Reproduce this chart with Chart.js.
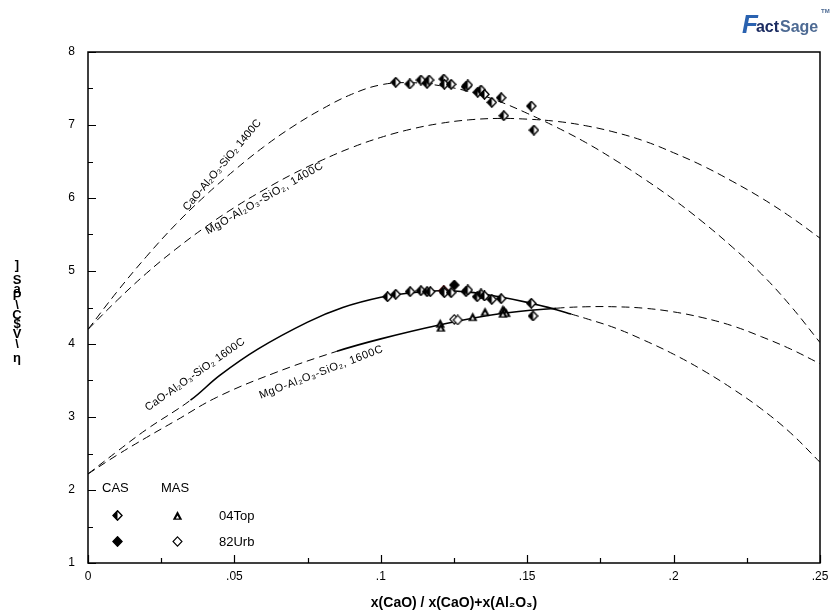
<!DOCTYPE html>
<html>
<head>
<meta charset="utf-8">
<script src="https://cdn.jsdelivr.net/npm/chart.js@4.4.1/dist/chart.umd.min.js"></script>
<style>
  html, body { margin: 0; padding: 0; background: #fff; }
  #wrap { width: 830px; height: 614px; }
</style>
</head>
<body>
<div id="wrap"><canvas id="chart" width="830" height="614"></canvas></div>
<script>
// axis ticks
const xTicks = [0, 0.05, 0.1, 0.15, 0.2, 0.25];
const xTickLabels = ['0', '.05', '.1', '.15', '.2', '.25'];
const yTicks = [1, 2, 3, 4, 5, 6, 7, 8];

// calculated curves
const cas1400X = [0, .01, .02, .03, .04, .05, .06, .07, .08, .09, .10, .11, .12, .13, .14, .15, .16, .17, .18, .19, .20, .21, .22, .23, .24, .25];
const cas1400Y = [4.2, 4.72, 5.2, 5.64, 6.03, 6.38, 6.7, 6.98, 7.22, 7.42, 7.55, 7.58, 7.54, 7.46, 7.33, 7.16, 6.97, 6.76, 6.52, 6.26, 5.98, 5.67, 5.33, 4.96, 4.52, 4.02];

const mas1400X = [0, .01, .02, .03, .04, .05, .06, .07, .08, .09, .10, .11, .12, .13, .14, .15, .16, .17, .18, .19, .20, .21, .22, .23, .24, .25];
const mas1400Y = [4.2, 4.6, 4.97, 5.3, 5.6, 5.87, 6.11, 6.33, 6.52, 6.69, 6.83, 6.94, 7.02, 7.07, 7.09, 7.08, 7.05, 6.99, 6.9, 6.78, 6.62, 6.44, 6.23, 6.0, 5.74, 5.45];

const cas1600X = [0, .01, .02, .035, .045, .058, .075, .087, .10, .11, .12, .13, .14, .15, .16, .165, .17, .18, .19, .20, .21, .22, .23, .24, .25];
const cas1600Y = [2.22, 2.53, 2.83, 3.23, 3.57, 3.93, 4.3, 4.5, 4.64, 4.7, 4.73, 4.71, 4.65, 4.57, 4.47, 4.41, 4.35, 4.22, 4.05, 3.86, 3.64, 3.39, 3.11, 2.78, 2.38];

const mas1600X = [0, .01, .02, .03, .044, .0635, .085, .10, .12, .14, .16, .17, .18, .19, .20, .21, .22, .23, .24, .25];
const mas1600Y = [2.22, 2.48, 2.72, 2.95, 3.27, 3.6, 3.9, 4.07, 4.26, 4.41, 4.49, 4.51, 4.51, 4.49, 4.44, 4.36, 4.25, 4.1, 3.93, 3.73];

// measured points
const casTopX = [0.1051, 0.1099, 0.1137, 0.1158, 0.1165, 0.1215, 0.1217, 0.124, 0.1291, 0.1297, 0.1331, 0.1342, 0.1354, 0.1379, 0.1411, 0.142, 0.1514, 0.1523,
                 0.1023, 0.1051, 0.11, 0.1137, 0.1158, 0.1169, 0.1215, 0.1217, 0.124, 0.1291, 0.1297, 0.1329, 0.1342, 0.1354, 0.1379, 0.1411, 0.1514, 0.152];
const casTopY = [7.585, 7.562, 7.616, 7.571, 7.616, 7.63, 7.558, 7.558, 7.525, 7.548, 7.448, 7.479, 7.42, 7.31, 7.374, 7.127, 7.26, 6.93,
                 4.648, 4.681, 4.717, 4.73, 4.717, 4.717, 4.73, 4.703, 4.703, 4.717, 4.74, 4.648, 4.685, 4.658, 4.612, 4.621, 4.558, 4.384];
const casUrbX = [0.1251];
const casUrbY = [4.808];
const masTopX = [0.1203, 0.1205, 0.1314, 0.1356, 0.1417, 0.1422, 0.1428, 0.1417];
const masTopY = [4.284, 4.229, 4.374, 4.443, 4.475, 4.456, 4.429, 4.421];
const masUrbX = [0.1251, 0.1263];
const masUrbY = [4.338, 4.329];
const redX = [0.1215];
const redY = [4.73];

const FONT = '"Liberation Sans", Arial, sans-serif';

function pts(xs, ys) {
  return xs.map((x, i) => ({ x: x, y: ys[i] }));
}

// small marker images
function marker(kind, color) {
  const c = document.createElement('canvas');
  c.width = 11; c.height = 11;
  const g = c.getContext('2d');
  g.lineWidth = 1.4;
  g.strokeStyle = color;
  g.fillStyle = color;
  function diamond() {
    g.beginPath();
    g.moveTo(5.5, 0.8); g.lineTo(10, 5.5); g.lineTo(5.5, 10.2); g.lineTo(1, 5.5);
    g.closePath();
  }
  if (kind === 'half') {
    diamond(); g.fillStyle = '#fff'; g.fill(); g.stroke();
    g.beginPath(); g.moveTo(5.5, 0.8); g.lineTo(5.5, 10.2); g.lineTo(1, 5.5); g.closePath();
    g.fillStyle = color; g.fill();
  } else if (kind === 'full') {
    diamond(); g.fill(); g.stroke();
  } else if (kind === 'open') {
    g.lineWidth = 1.1;
    diamond(); g.fillStyle = '#fff'; g.fill(); g.stroke();
  } else if (kind === 'tri') {
    g.beginPath(); g.moveTo(5.5, 1); g.lineTo(10.2, 9.8); g.lineTo(0.8, 9.8); g.closePath(); g.fill();
    g.beginPath(); g.moveTo(5.5, 5.6); g.lineTo(7.2, 8.4); g.lineTo(3.8, 8.4); g.closePath();
    g.fillStyle = '#fff'; g.fill();
  }
  return c;
}

const mHalf = marker('half', '#000');
const mFull = marker('full', '#000');
const mOpen = marker('open', '#000');
const mTri = marker('tri', '#000');
const mRed = marker('open', '#d00000');

const DASH = [8, 5];

function curve(xs, ys, solidFrom, solidTo) {
  const solid = ctx => ctx.p0.parsed.x >= solidFrom - 1e-9 && ctx.p1.parsed.x <= solidTo + 1e-9;
  return {
    data: pts(xs, ys),
    showLine: true,
    pointRadius: 0,
    borderColor: '#000',
    borderWidth: 1,
    borderDash: DASH,
    tension: 0.4,
    order: 2,
    segment: {
      borderDash: ctx => solid(ctx) ? [] : DASH,
      borderWidth: ctx => solid(ctx) ? 1.6 : 1
    }
  };
}

function points(xs, ys, img) {
  return { data: pts(xs, ys), pointStyle: img, pointRadius: 5, showLine: false, order: 1 };
}

const curveLabels = [
  { text: 'CaO-Al\u2082O\u2083-SiO\u2082 1400C', x: 0.034, y: 5.82, angle: -50, spacing: 0 },
  { text: 'MgO-Al\u2082O\u2083-SiO\u2082, 1400C', x: 0.041, y: 5.50, angle: -30, spacing: 0.7 },
  { text: 'CaO-Al\u2082O\u2083-SiO\u2082 1600C', x: 0.0205, y: 3.08, angle: -35, spacing: 0.2 },
  { text: 'MgO-Al\u2082O\u2083-SiO\u2082, 1600C', x: 0.059, y: 3.25, angle: -21, spacing: 0.6 }
];

const yLabelGlyphs = [']', 'S', 'a', 'P', '\\', 'C', '$', 'V', '\\', '\u03B7'];
const yLabelRows = [265, 280, 289, 296, 305, 315, 324, 334, 344, 358];

const decor = {
  id: 'decor',
  afterDraw(chart) {
    const ctx = chart.ctx;
    const a = chart.chartArea;
    const xs = chart.scales.x, ys = chart.scales.y;
    ctx.save();
    // frame
    ctx.strokeStyle = '#000';
    ctx.lineWidth = 1.5;
    ctx.strokeRect(a.left, a.top, a.right - a.left, a.bottom - a.top);
    // inward ticks
    ctx.lineWidth = 1.2;
    ctx.beginPath();
    for (let v = 0; v <= 0.25001; v += 0.025) {
      const px = Math.round(xs.getPixelForValue(v)) + 0.5;
      const major = Math.abs(v / 0.05 - Math.round(v / 0.05)) < 1e-6;
      ctx.moveTo(px, a.bottom); ctx.lineTo(px, a.bottom - (major ? 8 : 5));
    }
    for (let v = 1; v <= 8.001; v += 0.5) {
      const py = Math.round(ys.getPixelForValue(v)) + 0.5;
      const major = Math.abs(v - Math.round(v)) < 1e-6;
      ctx.moveTo(a.left, py); ctx.lineTo(a.left + (major ? 8 : 5), py);
    }
    ctx.stroke();

    // curve labels
    ctx.fillStyle = '#000';
    ctx.font = '11px ' + FONT;
    ctx.textBaseline = 'alphabetic';
    ctx.textAlign = 'left';
    curveLabels.forEach(l => {
      ctx.save();
      ctx.translate(xs.getPixelForValue(l.x), ys.getPixelForValue(l.y));
      ctx.rotate(l.angle * Math.PI / 180);
      ctx.letterSpacing = l.spacing + 'px';
      ctx.fillText(l.text, 0, 0);
      ctx.restore();
    });

    // legend block
    ctx.font = '13px ' + FONT;
    ctx.textBaseline = 'middle';
    ctx.fillText('CAS', 102, 488);
    ctx.fillText('MAS', 161, 488);
    ctx.fillText('04Top', 219, 516);
    ctx.fillText('82Urb', 219, 542);
    ctx.drawImage(mHalf, 112, 510);
    ctx.drawImage(mTri, 172, 510);
    ctx.drawImage(mFull, 112, 536);
    ctx.drawImage(mOpen, 172, 536);

    // y axis title (glyphs stacked as in the source)
    ctx.font = 'bold 13px ' + FONT;
    ctx.textAlign = 'center';
    yLabelGlyphs.forEach((g, i) => ctx.fillText(g, 17, yLabelRows[i]));

    // logo
    ctx.textAlign = 'left';
    ctx.textBaseline = 'alphabetic';
    ctx.font = 'italic bold 26px ' + FONT;
    ctx.fillStyle = '#2a62b0';
    ctx.fillText('F', 742, 33);
    ctx.font = 'bold 16px ' + FONT;
    ctx.fillStyle = '#1d2d62';
    const actW = ctx.measureText('act').width;
    ctx.fillText('act', 779 - actW, 32);
    ctx.fillStyle = '#4d6a93';
    ctx.fillText('Sage', 780, 32);
    ctx.font = 'bold 6px ' + FONT;
    ctx.fillText('TM', 821, 13);
    ctx.restore();
  }
};

new Chart(document.getElementById('chart'), {
  type: 'scatter',
  data: {
    datasets: [
      curve(cas1400X, cas1400Y, 99, -1),
      curve(mas1400X, mas1400Y, 99, -1),
      curve(cas1600X, cas1600Y, 0.035, 0.165),
      curve(mas1600X, mas1600Y, 0.085, 0.16),
      points(casTopX, casTopY, mHalf),
      points(casUrbX, casUrbY, mFull),
      points(masTopX, masTopY, mTri),
      points(masUrbX, masUrbY, mOpen),
      points(redX, redY, mRed)
    ]
  },
  options: {
    responsive: false,
    animation: false,
    layout: { padding: { top: 52, right: 10, left: 0, bottom: 0 } },
    plugins: { legend: { display: false }, tooltip: { enabled: false } },
    scales: {
      x: {
        type: 'linear', min: 0, max: 0.25,
        afterBuildTicks: s => { s.ticks = xTicks.map(v => ({ value: v })); },
        afterFit: s => { s.height = 51; s.paddingRight = 0; },
        grid: { display: false, drawTicks: false },
        border: { display: false },
        ticks: {
          padding: 6, color: '#000', font: { family: FONT, size: 12 },
          callback: (v, i) => xTickLabels[i]
        },
        title: {
          display: true, text: 'x(CaO) / x(CaO)+x(Al\u2082O\u2083)', color: '#000',
          font: { family: FONT, size: 14, weight: 'bold' }, padding: { top: 4, bottom: 2 }
        }
      },
      y: {
        type: 'linear', min: 1, max: 8,
        afterBuildTicks: s => { s.ticks = yTicks.map(v => ({ value: v })); },
        afterFit: s => { s.width = 88; },
        grid: { display: false, drawTicks: false },
        border: { display: false },
        ticks: {
          padding: 13, color: '#000', font: { family: FONT, size: 12 },
          callback: v => String(v)
        }
      }
    }
  },
  plugins: [decor]
});
</script>
</body>
</html>
